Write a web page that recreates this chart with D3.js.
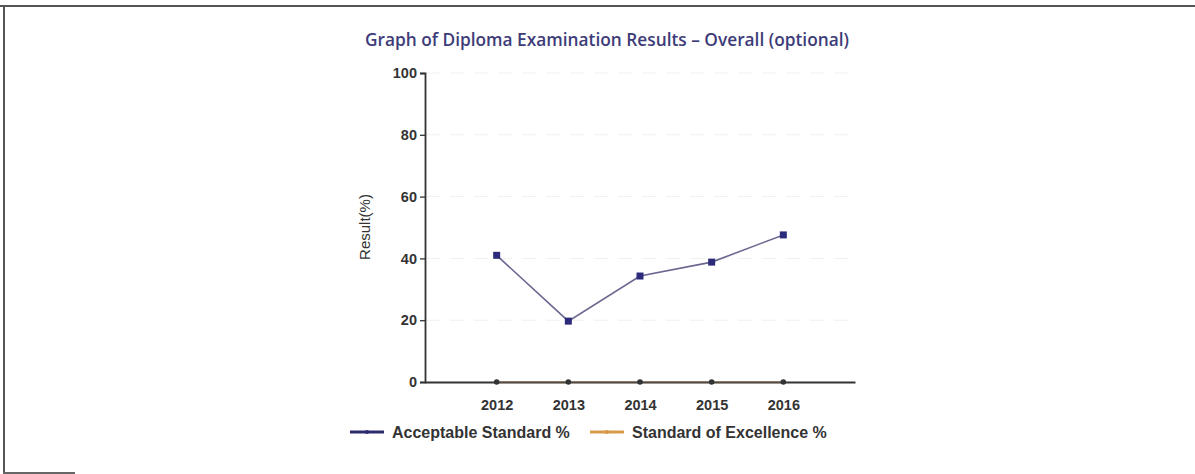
<!DOCTYPE html>
<html><head><meta charset="utf-8">
<script src="https://cdn.jsdelivr.net/npm/d3@7"></script>
<style>body{margin:0;background:#fff}svg{display:block}</style>
</head><body>
<svg id="c" width="1195" height="474"></svg>
<script>
const years = ["2012","2013","2014","2015","2016"];
const acceptable = [41, 19.7, 34.3, 38.8, 47.6];
const excellence = [0, 0, 0, 0, 0];
const yTicks = [0, 20, 40, 60, 80, 100];
const seriesNames = ["Acceptable Standard %", "Standard of Excellence %"];
const title = "Graph of Diploma Examination Results \u2013 Overall (optional)";
const yLabel = "Result(%)";

const svg = d3.select("#c");
const F = "Liberation Sans, Arial, sans-serif";
// frame
svg.append("rect").attr("x",0).attr("y",5).attr("width",1195).attr("height",2).attr("fill","#555");
svg.append("rect").attr("x",3).attr("y",5).attr("width",2).attr("height",469).attr("fill","#555");
svg.append("rect").attr("x",3).attr("y",472).attr("width",72).attr("height",2).attr("fill","#666");

const x = d3.scalePoint().domain(["", ...years, " "]).range([425, 855]);
const y = d3.scaleLinear().domain([0,100]).range([382, 73]);

svg.append("text").attr("x",607).attr("y",46).attr("text-anchor","middle")
  .attr("font-family","Open Sans, sans-serif").attr("font-weight",600).attr("font-size",17.3).attr("fill","#3d3c78").text(title);

// grid
svg.append("g").selectAll("line").data(yTicks.slice(1)).join("line")
  .attr("x1",426).attr("x2",855).attr("y1",d=>y(d)).attr("y2",d=>y(d))
  .attr("stroke","#f0f0f0").attr("stroke-dasharray","14,10");

const yAxis = svg.append("g").attr("transform","translate(425,0)")
  .call(d3.axisLeft(y).tickValues(yTicks).tickSize(5).tickPadding(3));
yAxis.select(".domain").attr("stroke","#333").attr("stroke-width",1.8);
yAxis.selectAll(".tick line").attr("stroke","#333").attr("stroke-width",1.3);
yAxis.selectAll("text").attr("font-family",F).attr("font-weight","bold").attr("font-size",14.5).attr("fill","#333");

const xAxis = svg.append("g").attr("transform","translate(0,382)")
  .call(d3.axisBottom(x).tickValues(years).tickSize(0).tickPadding(18));
xAxis.select(".domain").attr("stroke","#333").attr("stroke-width",1.8);
xAxis.selectAll("text").attr("font-family",F).attr("font-weight","bold").attr("font-size",14.5).attr("fill","#333");

svg.append("text").attr("transform","translate(370,227) rotate(-90)").attr("text-anchor","middle")
  .attr("font-family",F).attr("font-size",15).attr("fill","#333").text(yLabel);

const line = d3.line().x((d,i)=>x(years[i])).y(d=>y(d));
// excellence
svg.append("path").datum(excellence).attr("d",line).attr("fill","none").attr("stroke","#7a6040").attr("stroke-width",1.2);
svg.append("g").selectAll("circle").data(excellence).join("circle")
  .attr("cx",(d,i)=>x(years[i])).attr("cy",d=>y(d)).attr("r",2.8).attr("fill","#333");
// acceptable
svg.append("path").datum(acceptable).attr("d",line).attr("fill","none").attr("stroke","#6a6890").attr("stroke-width",1.6);
svg.append("g").selectAll("rect").data(acceptable).join("rect")
  .attr("x",(d,i)=>x(years[i])-3.5).attr("y",d=>y(d)-3.5).attr("width",7).attr("height",7).attr("fill","#2c2a7a");

// legend
const leg = [{name:seriesNames[0],color:"#2c2a6e",x:350},{name:seriesNames[1],color:"#d89a48",x:590}];
leg.forEach(l=>{
  svg.append("line").attr("x1",l.x).attr("x2",l.x+34).attr("y1",432).attr("y2",432).attr("stroke",l.color).attr("stroke-width",3);
  svg.append("circle").attr("cx",l.x+17).attr("cy",432).attr("r",2).attr("fill",l.color);
  svg.append("text").attr("x",l.x+42).attr("y",437.5).attr("font-family",F).attr("font-weight","bold")
    .attr("font-size",16).attr("fill","#333").text(l.name);
});
</script>
</body></html>
